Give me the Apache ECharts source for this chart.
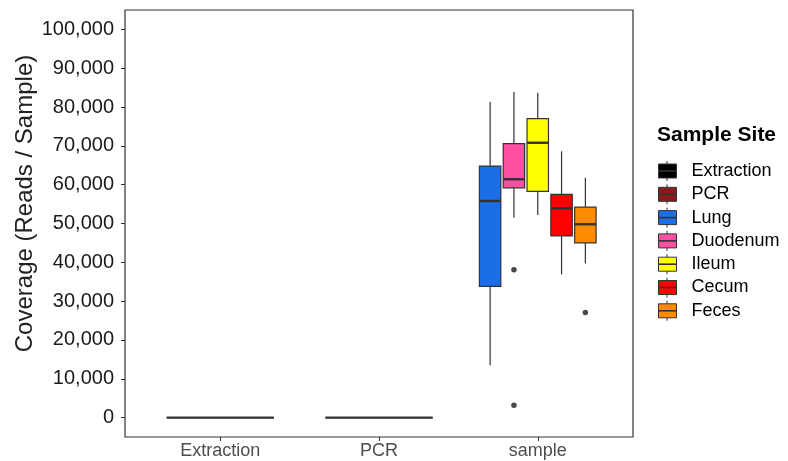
<!DOCTYPE html>
<html>
<head>
<meta charset="UTF-8">
<title>Coverage by sample site</title>
<style>
  * { margin: 0; padding: 0; }
  #main { width: 788px; height: 461px; background: #fff; }
</style>
<script src="https://cdn.jsdelivr.net/npm/echarts@6/dist/echarts.min.js"></script>
</head>
<body>
<div id="main"></div>
<script>
// categories on the x axis
var groupLabels = ['Extraction', 'PCR', 'sample'];
// fill groups (legend)
var sites = ['Extraction', 'PCR', 'Lung', 'Duodenum', 'Ileum', 'Cecum', 'Feces'];
var siteColors = ['#000000', '#8b1a1a', '#1c6ee8', '#ff4fa3', '#ffff00', '#ff0000', '#ff8c00'];
// dodged box positions and widths (in x-axis units)
var boxX = [1, 2, 2.7, 2.85, 3.0, 3.15, 3.3];
var boxW = [0.675, 0.675, 0.135, 0.135, 0.135, 0.135, 0.135];
// [min, q1, median, q3, max]
var boxStats = [
  [0, 0, 0, 0, 0],
  [0, 0, 0, 0, 0],
  [13500, 33800, 55800, 64800, 81300],
  [51500, 59200, 61400, 70600, 83900],
  [52200, 58300, 70800, 77000, 83700],
  [36900, 46800, 53900, 57500, 68600],
  [39700, 45000, 49800, 54200, 61800]
];
// outliers [x, value]
var outliers = [[2.85, 38100], [2.85, 3200], [3.3, 27100]];
var yTicks = [0, 10000, 20000, 30000, 40000, 50000, 60000, 70000, 80000, 90000, 100000];

var lineCol = '#333333';

function renderBox(params, api) {
  var x = api.value(0);
  var w = api.size([api.value(6), 0])[0];
  var pMin = api.coord([x, api.value(1)]);
  var pQ1 = api.coord([x, api.value(2)]);
  var pMed = api.coord([x, api.value(3)]);
  var pQ3 = api.coord([x, api.value(4)]);
  var pMax = api.coord([x, api.value(5)]);
  var cx = pMed[0];
  var fill = api.visual('color');
  return {
    type: 'group',
    children: [
      { type: 'line', shape: { x1: cx, y1: pMax[1], x2: cx, y2: pQ3[1] }, style: { stroke: lineCol, lineWidth: 1.2 } },
      { type: 'line', shape: { x1: cx, y1: pQ1[1], x2: cx, y2: pMin[1] }, style: { stroke: lineCol, lineWidth: 1.2 } },
      { type: 'rect', shape: { x: cx - w / 2, y: pQ3[1], width: w, height: pQ1[1] - pQ3[1] }, style: { fill: fill, stroke: lineCol, lineWidth: 1.2 } },
      { type: 'line', shape: { x1: cx - w / 2, y1: pMed[1], x2: cx + w / 2, y2: pMed[1] }, style: { stroke: lineCol, lineWidth: 2.4 } }
    ]
  };
}

var series = sites.map(function (s, i) {
  var st = boxStats[i];
  return {
    name: s,
    type: 'custom',
    renderItem: renderBox,
    itemStyle: { color: siteColors[i], borderColor: lineCol, borderWidth: 1 },
    encode: { x: 0, y: [1, 2, 3, 4, 5] },
    data: [[boxX[i], st[0], st[1], st[2], st[3], st[4], boxW[i]]],
    z: 2
  };
});
series.push({
  name: 'outliers',
  type: 'scatter',
  symbolSize: 5.5,
  itemStyle: { color: '#1a1a1a' },
  data: outliers,
  z: 3
});

// legend layout
var legTop = 162, legItemH = 18, legGap = 5.3, legLeft = 658, legIconW = 18;
var keyMarks = [];
sites.forEach(function (s, i) {
  var cy = legTop + i * (legItemH + legGap) + legItemH / 2;
  var cx = legLeft + legIconW / 2;
  keyMarks.push({ type: 'line', shape: { x1: legLeft, y1: cy, x2: legLeft + legIconW, y2: cy }, style: { stroke: lineCol, lineWidth: 1.6 }, z: 10 });
  keyMarks.push({ type: 'line', shape: { x1: cx, y1: cy - 10, x2: cx, y2: cy - 7 }, style: { stroke: lineCol, lineWidth: 1 }, z: 10 });
  keyMarks.push({ type: 'line', shape: { x1: cx, y1: cy + 7, x2: cx, y2: cy + 10 }, style: { stroke: lineCol, lineWidth: 1 }, z: 10 });
});

var myChart = echarts.init(document.getElementById('main'));
var option = {
  backgroundColor: '#fff',
  animation: false,
  textStyle: { fontFamily: 'Liberation Sans, Arial, sans-serif' },
  title: {
    text: 'Sample Site',
    left: 657,
    top: 125,
    padding: 0,
    textStyle: { fontSize: 21, fontWeight: 'bold', color: '#000', fontFamily: 'Liberation Sans' }
  },
  legend: {
    data: sites,
    orient: 'vertical',
    left: legLeft,
    top: legTop,
    padding: 0,
    icon: 'rect',
    itemWidth: legIconW,
    itemHeight: 14,
    itemGap: legGap,
    itemStyle: { borderColor: lineCol, borderWidth: 1 },
    textStyle: { fontSize: 18, color: '#000', padding: [0, 0, 0, 10], fontFamily: 'Liberation Sans' },
    selectedMode: false
  },
  grid: {
    left: 125,
    right: 155,
    top: 10,
    bottom: 24,
    show: true,
    borderColor: lineCol,
    borderWidth: 1.2,
    containLabel: false,
    outerBoundsMode: 'none'
  },
  xAxis: {
    type: 'value',
    min: 0.4,
    max: 3.6,
    axisLine: { show: false, onZero: false },
    splitLine: { show: false },
    axisTick: { show: true, customValues: [1, 2, 3], length: 4, lineStyle: { color: lineCol } },
    axisLabel: {
      customValues: [1, 2, 3],
      formatter: function (v) { return groupLabels[Math.round(v) - 1]; },
      fontSize: 18,
      color: '#4d4d4d',
      margin: 5
    }
  },
  yAxis: {
    type: 'value',
    min: -5000,
    max: 105000,
    name: 'Coverage (Reads / Sample)',
    nameLocation: 'middle',
    nameGap: 88,
    nameMoveOverlap: false,
    nameTextStyle: { fontSize: 24, color: '#222', padding: [0, 0, 0, 40] },
    axisLine: { show: false, onZero: false },
    splitLine: { show: false },
    axisTick: { show: true, customValues: yTicks, length: 4, lineStyle: { color: lineCol } },
    axisLabel: {
      customValues: yTicks,
      formatter: function (v) { return v.toLocaleString('en-US'); },
      fontSize: 20,
      color: '#1a1a1a',
      margin: 11
    }
  },
  graphic: keyMarks,
  series: series
};
myChart.setOption(option);
</script>
</body>
</html>
